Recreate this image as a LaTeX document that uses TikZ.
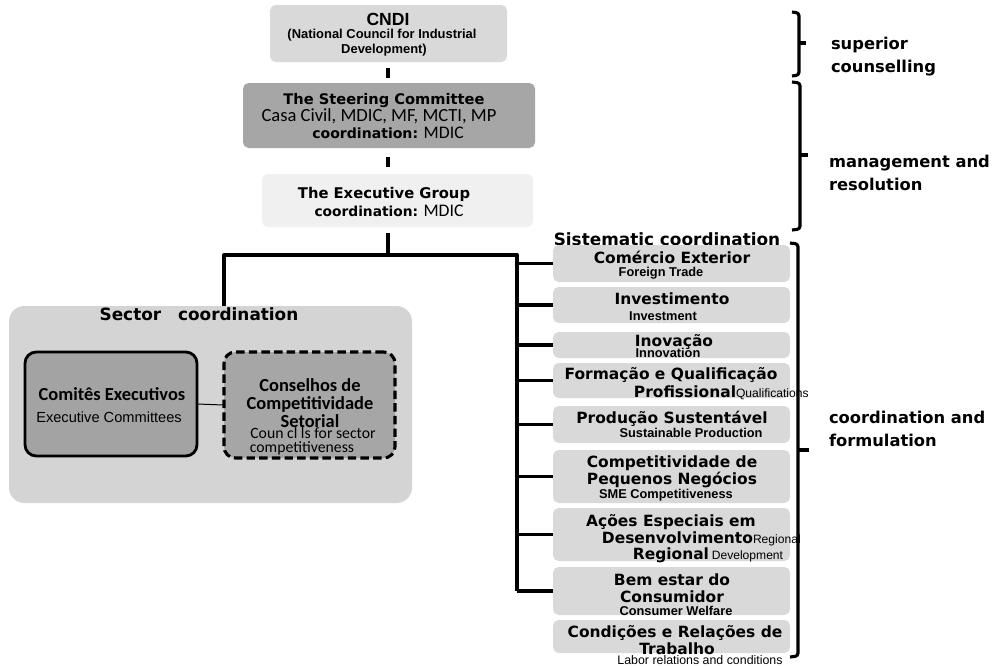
\documentclass[tikz,border=0pt]{standalone}
\usepackage{fontspec}
\setmainfont{Liberation Sans}
\newfontfamily\dv{DejaVu Sans}
\newfontfamily\cb{Carlito}
\usetikzlibrary{fit}
\definecolor{gA}{HTML}{D9D9D9}
\definecolor{gB}{HTML}{A6A6A6}
\definecolor{gC}{HTML}{F0F0F0}
\definecolor{gD}{HTML}{D4D4D4}
\definecolor{gE}{HTML}{A3A3A3}
\tikzset{
  bx/.style={rounded corners=4pt, inner sep=0pt, outer sep=0pt},
  t/.style={inner sep=0pt, outer sep=0pt, anchor=center},
  ln/.style={line width=2.4pt},
  brk/.style={line width=2.2pt, rounded corners=2pt},
  ttl/.style={t, font=\dv\bfseries\fontsize{11pt}{13pt}\selectfont},
  sub/.style={t, font=\bfseries\fontsize{9.1pt}{10pt}\selectfont},
  sml/.style={t, font=\fontsize{8.6pt}{10pt}\selectfont},
  lbl/.style={t, anchor=west, font=\dv\bfseries\fontsize{11.6pt}{14pt}\selectfont},
  cbt/.style={t, font=\cb\bfseries\fontsize{13.1pt}{15pt}\selectfont},
}
\begin{document}
\begin{tikzpicture}[x=0.025cm,y=-0.025cm]
\useasboundingbox[fill=white] (0,0) rectangle (998,665);
% top column
\node[bx, fill=gA, fit={(270,5)(507,62)}] (cndi) {};
\node[t, font=\bfseries\fontsize{12.5pt}{14pt}\selectfont] (cndit) at (388,19) {CNDI};
\node[t, font=\bfseries\fontsize{9.2pt}{11pt}\selectfont] (cndi2) at (382,35) {(National Council for Industrial};
\node[t, font=\bfseries\fontsize{9.2pt}{11pt}\selectfont] (cndi3) at (384,50) {Development)};

\node[bx, fill=gB, fit={(243,83)(535,148)}] (steer) {};
\node[t, font=\dv\bfseries\fontsize{10.4pt}{12pt}\selectfont] (steer1) at (384,101) {The Steering Committee};
\node[t, font=\cb\fontsize{13.2pt}{15pt}\selectfont] (steer2) at (379,116) {Casa Civil, MDIC, MF, MCTI, MP};
\node[t, font=\cb\fontsize{12.6pt}{15pt}\selectfont] (steer3) at (388,133) {{\dv\bfseries\fontsize{10pt}{12pt}\selectfont coordination:}\hspace{4pt}MDIC};

\node[bx, fill=gC, fit={(262,174)(533,227)}] (exec) {};
\node[t, font=\dv\bfseries\fontsize{10.5pt}{12pt}\selectfont] (exec1) at (384,194) {The Executive Group};
\node[t, font=\cb\fontsize{12.6pt}{15pt}\selectfont] (exec2) at (389,211) {{\dv\bfseries\fontsize{9.8pt}{12pt}\selectfont coordination:} MDIC};

\coordinate (j) at (388,255);
\draw[ln, line width=2.8pt, shorten <=4.3pt, shorten >=3.5pt] (j |- cndi.south) -- (j |- steer.north);
\draw[ln, line width=2.8pt, shorten <=6.4pt, shorten >=5pt] (j |- steer.south) -- (j |- exec.north);

% sector coordination
\node[bx, rounded corners=11pt, fill=gD, fit={(9,306)(412,503)}] (sector) {};
\node[t, font=\dv\bfseries\fontsize{12pt}{14pt}\selectfont] (sectort) at (199,314) {Sector\hspace{12pt}coordination};
\node[bx, rounded corners=8pt, fill=gE, draw=black, line width=2pt, fit={(25,352)(197,456)}] (comites) {};
\node[cbt] (com1) at (112,394) {Comitês Executivos};
\node[t, font=\fontsize{10.4pt}{12pt}\selectfont] (com2) at (109,417) {Executive Committees};
\node[bx, rounded corners=8pt, fill=gB, draw=black, line width=2.2pt, dash pattern=on 6pt off 3pt, fit={(224,352)(395,458)}] (cons) {};
\node[cbt] (cons1) at (310,385) {Conselhos de};
\node[cbt] (cons2) at (310,404) {Competitividade};
\node[cbt] (cons3) at (310,421) {Setorial};
\node[t, font=\cb\fontsize{11.2pt}{13pt}\selectfont] (cons4) at (313,433) {Coun cl ls for sector};
\node[t, font=\cb\fontsize{11.2pt}{13pt}\selectfont] (cons5) at (302,448) {competitiveness};
\draw[line width=0.7pt] (comites.east) -- (cons.west);

% systematic coordination
\node[t, font=\dv\bfseries\fontsize{12pt}{14pt}\selectfont] (sist) at (667,239) {Sistematic coordination};
\node[bx, fill=gA, fit={(553,245)(790,282)}] (b1) {};
\node[bx, fill=gA, fit={(553,287)(790,323)}] (b2) {};
\node[bx, fill=gA, fit={(553,332)(790,358)}] (b3) {};
\node[bx, fill=gA, fit={(553,363)(790,398)}] (b4) {};
\node[bx, fill=gA, fit={(553,406)(790,443)}] (b5) {};
\node[bx, fill=gA, fit={(553,450)(790,503)}] (b6) {};
\node[bx, fill=gA, fit={(553,508)(790,561)}] (b7) {};
\node[bx, fill=gA, fit={(553,567)(790,615)}] (b8) {};
\node[bx, fill=gA, fit={(553,620)(790,653)}] (b9) {};

\node[ttl] (b1a) at (672,257) {Comércio Exterior};
\node[sub] (b1b) at (661,273) {Foreign Trade};
\node[ttl] (b2a) at (672,299) {Investimento};
\node[sub] (b2b) at (663,316) {Investment};
\node[ttl] (b3a) at (674,342) {Inovação};
\node[sub] (b3b) at (668,353) {Innovation};
\node[ttl] (b4a) at (671,375) {Formação e Qualificação};
\node[ttl] (b4b) at (685,392) {Profissional};
\node[sml, anchor=base west] (b4c) at (b4b.base east) {Qualifications};
\node[ttl] (b5a) at (672,419) {Produção Sustentável};
\node[sub] (b5b) at (691,433) {Sustainable Production};
\node[ttl] (b6a) at (672,463) {Competitividade de};
\node[ttl] (b6b) at (672,480) {Pequenos Negócios};
\node[sub] (b6c) at (666,495) {SME Competitiveness};
\node[ttl] (b7a) at (671,522) {Ações Especiais em};
\node[ttl, anchor=east] (b7b) at (753,538) {Desenvolvimento};
\node[sml, anchor=base west] (b7c) at (b7b.base east) {Regional};
\node[ttl, anchor=east] (b7d) at (709,555) {Regional};
\node[sml, anchor=base west, xshift=2pt] (b7e) at (b7d.base east) {Development};
\node[ttl] (b8a) at (672,580) {Bem estar do};
\node[ttl] (b8b) at (672,597) {Consumidor};
\node[sub] (b8c) at (676,611) {Consumer Welfare};
\node[ttl] (b9a) at (675,633) {Condições e Relações de};
\node[ttl] (b9b) at (677,649) {Trabalho};
\node[t, font=\fontsize{8.8pt}{10pt}\selectfont] (b9c) at (700,660) {Labor relations and conditions};

% tree connectors
\coordinate (jl) at (224,255);
\coordinate (jr) at (517,255);
\draw[ln, shorten <=4.3pt] (j |- exec.south) -- (j);
\draw[ln, line join=round] (sector.north -| jl) -- (jl) -- (jr) -- (jr |- b8.west);
\foreach \b in {b1,b2,b3,b4,b5,b6,b7,b8}{
  \draw[ln] (jr |- \b.west) -- (\b.west);
}

% brackets
\draw[brk] (792,12) -- (799,13) -- (799,75) -- (792,76);
\draw[line width=2.2pt] (799,43) -- (806,43);
\node[lbl] (l1a) at (831,45) {superior};
\node[lbl] (l1b) at (831,68) {counselling};
\draw[brk] (792,82) -- (800,83) -- (800,229) -- (792,230);
\draw[line width=2.2pt] (800,155) -- (808,155);
\node[lbl] (l2a) at (829,163) {management and};
\node[lbl] (l2b) at (829,184) {resolution};
\draw[brk] (790,243) -- (798,244) -- (798,656) -- (790,657);
\draw[line width=2.2pt] (798,450) -- (809,450);
\node[lbl] (l3a) at (829,417) {coordination and};
\node[lbl] (l3b) at (829,440) {formulation};
\end{tikzpicture}
\end{document}
